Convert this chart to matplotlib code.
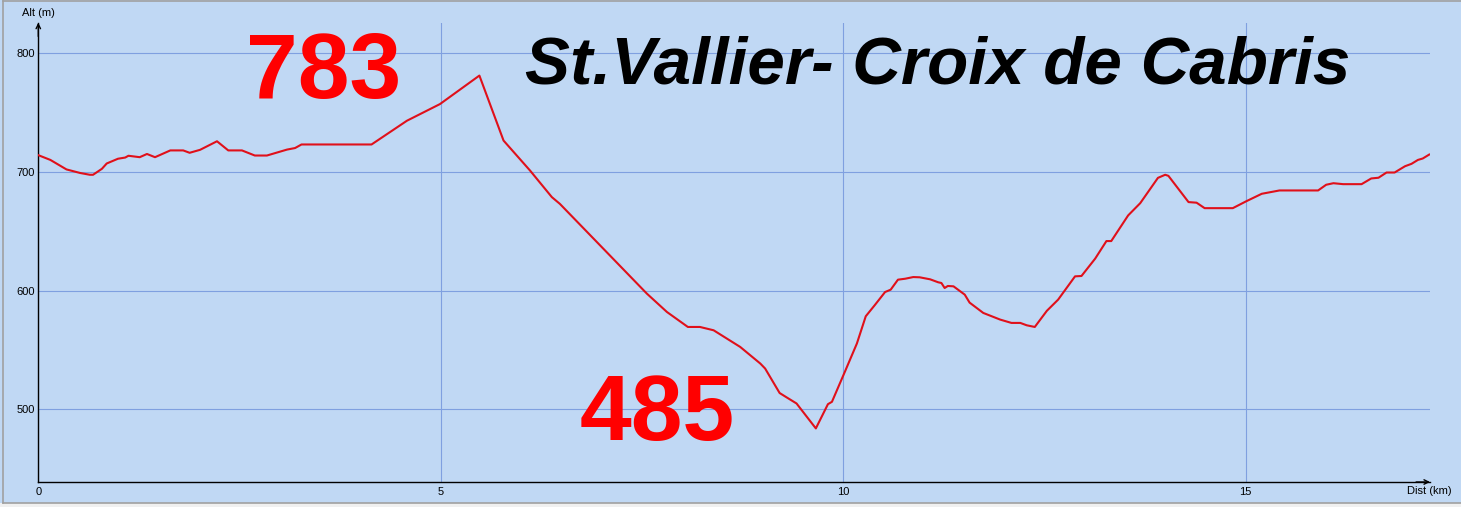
import matplotlib.pyplot as plt
from matplotlib.patches import Rectangle

# profil altimétrique St.Vallier - Croix de Cabris
W, H = 1461, 507
BG = '#C0D8F4'
GRID = '#7FA0E0'
LINE = '#E0101A'

dist_km = [0.00, 0.15, 0.35, 0.52, 0.64, 0.68, 0.79, 0.85, 0.99, 1.08, 1.12, 1.26,
           1.35, 1.45, 1.64, 1.80, 1.88, 2.01, 2.22, 2.36, 2.53, 2.69, 2.84, 3.09,
           3.19, 3.27, 4.14, 4.58, 4.99, 5.48, 5.78, 6.11, 6.38, 6.48, 7.56, 7.81,
           8.07, 8.22, 8.39, 8.72, 8.97, 9.03, 9.21, 9.30, 9.42, 9.66, 9.81, 9.86,
           10.02, 10.17, 10.28, 10.39, 10.52, 10.59, 10.68, 10.77, 10.87, 10.95,
           11.08, 11.18, 11.22, 11.26, 11.30, 11.37, 11.51, 11.57, 11.74, 11.95,
           12.09, 12.20, 12.28, 12.38, 12.53, 12.67, 12.88, 12.96, 13.13, 13.27,
           13.33, 13.54, 13.69, 13.91, 14.00, 14.04, 14.29, 14.39, 14.49, 14.84,
           15.01, 15.20, 15.42, 15.90, 16.00, 16.09, 16.21, 16.44, 16.56, 16.65,
           16.75, 16.85, 16.98, 17.06, 17.14, 17.20, 17.28]
alt_m = [714, 710, 702, 699, 697.5, 697.5, 702.5, 707, 711, 712, 713.5, 712.3,
         715, 712.3, 718, 718, 716, 718.5, 725.7, 718, 718, 713.7, 713.7, 718.7,
         720, 723, 723, 743, 757, 781, 726.3, 701, 678.7, 673, 597.5, 582,
         569.4, 569.4, 566.6, 552.6, 538.6, 534.4, 513.8, 510, 505, 484, 504.4, 506.4,
         531.6, 555.5, 578.4, 587.6, 598.8, 600.8, 609.2, 610, 611.4, 611.2,
         609.5, 607, 606.4, 602.2, 603.9, 603.6, 596.6, 589.9, 581.2, 575.6,
         572.8, 572.8, 570.8, 569.4, 583, 592.4, 612, 612.3, 626.9, 641.7,
         641.7, 663.3, 673.6, 694.9, 697.5, 696.6, 674.5, 674, 669.4, 669.4,
         675.3, 681.5, 684.3, 684.3, 689.1, 690.4, 689.6, 689.6, 694.4, 695,
         699.4, 699.4, 704.7, 706.7, 710, 711.2, 714.5]

x_ticks = [0, 5, 10, 15]
y_ticks = [500, 600, 700, 800]
title = 'St.Vallier- Croix de Cabris'
alt_max_label = '783'
alt_min_label = '485'


def fx(px):
    return px / W


def fy(py):
    return 1 - py / H


fig = plt.figure(figsize=(W / 100, H / 100), dpi=100, facecolor=BG)
plt.rcParams['font.family'] = ['Liberation Sans', 'DejaVu Sans']

# cadre gris et bande du bas
fig.patches.append(Rectangle((0, 0), 1, fy(503), transform=fig.transFigure,
                             facecolor='#F0F0F0', edgecolor='none', zorder=0))
fig.add_artist(plt.Line2D([fx(2.5), fx(2.5)], [fy(503), fy(1)], color='#A0A0A0', lw=1.2))
fig.add_artist(plt.Line2D([fx(2.5), 1], [fy(1), fy(1)], color='#A0A0A0', lw=1.2))
fig.add_artist(plt.Line2D([fx(2.5), 1], [fy(503), fy(503)], color='#A0A0A0', lw=1.2))

ax_left, ax_right, ax_top, ax_bot = 38.3, 1430, 22.7, 482
ax = fig.add_axes([fx(ax_left), fy(ax_bot), (ax_right - ax_left) / W, (ax_bot - ax_top) / H])
ax.set_facecolor(BG)
ax.set_xlim(0, 17.29)
ax.set_ylim(438.9, 825.5)

ax.plot(dist_km, alt_m, color=LINE, lw=1.5, zorder=3)

ax.set_xticks(x_ticks)
ax.set_yticks(y_ticks)
ax.grid(True, color=GRID, lw=0.8)
ax.set_axisbelow(True)
ax.tick_params(length=0, labelsize=8)
ax.tick_params(axis='x', pad=3.5)
ax.tick_params(axis='y', pad=2.5)
for s in ['top', 'right']:
    ax.spines[s].set_visible(False)
for s in ['left', 'bottom']:
    ax.spines[s].set_color('black')
    ax.spines[s].set_linewidth(1.0)

# flèches des axes
ax.annotate('', xy=(0, 1), xytext=(0, 0.97), xycoords='axes fraction',
            arrowprops=dict(arrowstyle='->', color='black', lw=1.0,
                            shrinkA=0, shrinkB=0, mutation_scale=8))
ax.annotate('', xy=(1, 0), xytext=(0.99, 0), xycoords='axes fraction',
            arrowprops=dict(arrowstyle='->', color='black', lw=1.0,
                            shrinkA=0, shrinkB=0, mutation_scale=8))

fig.text(fx(38.5), fy(13.5), 'Alt (m)', fontsize=8, ha='center', va='center')
fig.text(fx(1452), fy(491), 'Dist (km)', fontsize=8, ha='right', va='center')

fig.text(fx(324), fy(98), alt_max_label, color='#FF0000', fontsize=67,
         fontweight='bold', ha='center', va='baseline')
fig.text(fx(657), fy(440), alt_min_label, color='#FF0000', fontsize=67,
         fontweight='bold', ha='center', va='baseline')
fig.text(fx(525), fy(83.3), title, color='black', fontsize=48.5,
         fontweight='bold', fontstyle='italic', ha='left', va='baseline')

fig.savefig('out.png', dpi=100, facecolor=BG)
